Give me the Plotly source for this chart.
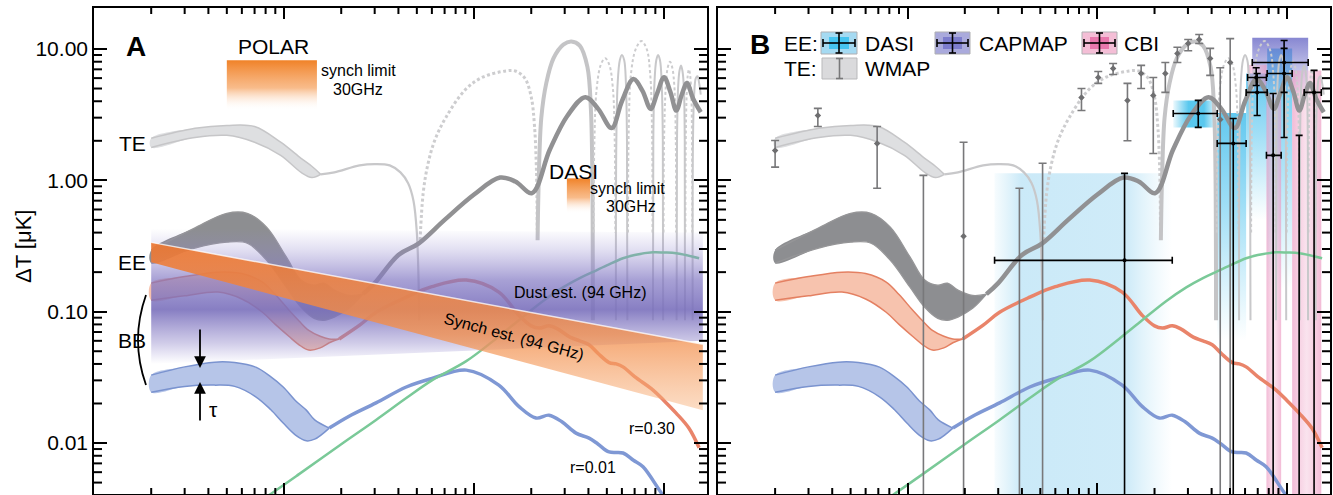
import plotly.graph_objects as go

# ---------------- data (multipole ell, Delta T in microK) ----------------
te_band_ell = [2, 3.4, 5, 7, 9.6, 12.3, 14, 15.6]
te_band_hi = [2.09, 2.49, 2.62, 2.57, 1.95, 1.47, 1.28, 1.11]
te_band_lo = [1.78, 2.12, 2.2, 1.95, 1.55, 1.15, 1.05, 1.11]
te_low_ell = [15.6, 18.4, 25, 30, 36, 41, 45, 48, 50, 51.5]
te_low_val = [1.11, 1.15, 1.3, 1.33, 1.3, 1.15, 0.95, 0.7, 0.4, 0.086]
te_neg1_ell = [52, 54, 57, 62, 71, 90, 111, 147, 165, 185, 200, 208, 213, 215]
te_neg1_val = [0.35, 0.8, 1.3, 2.0, 3.0, 4.9, 6.1, 6.8, 6.8, 6.0, 4.3, 2.6, 1.2, 0.42]
te_pos1_ell = [216, 219, 226, 240, 262, 295, 325, 360, 395, 412, 419, 422]
te_pos1_val = [0.35, 1.0, 3.0, 5.5, 8.5, 10.8, 11.4, 10.6, 7.3, 3.5, 1.2, 0.086]
te_hi_solid = [
    ([558, 561, 570, 585, 600, 617, 630, 638, 641], [0.086, 2.0, 5.5, 8.2, 9.0, 8.2, 5.5, 2.0, 0.086]),
    ([874, 878, 890, 910, 930, 952, 972, 985, 989], [0.086, 2.0, 5.5, 8.2, 9.0, 8.2, 5.5, 2.0, 0.086]),
    ([1164, 1170, 1185, 1205, 1228, 1250, 1272, 1285, 1289], [0.086, 2.0, 5.0, 6.8, 7.5, 6.8, 5.0, 2.0, 0.086]),
    ([1414, 1420, 1440, 1470, 1500, 1530, 1560], [0.086, 2.0, 4.5, 6.0, 6.2, 5.5, 4.5]),
]
te_hi_dashed = [
    ([426, 430, 442, 465, 490, 515, 538, 550, 554], [0.4, 2.0, 5.0, 7.6, 8.5, 7.6, 5.0, 2.0, 0.4]),
    ([646, 652, 670, 710, 760, 810, 845, 864, 869], [0.4, 2.5, 6.5, 10.0, 11.5, 10.0, 6.5, 2.5, 0.4]),
    ([994, 1000, 1020, 1045, 1075, 1105, 1135, 1153, 1158], [0.4, 2.0, 5.0, 7.2, 8.0, 7.2, 5.0, 2.0, 0.4]),
    ([1295, 1300, 1315, 1333, 1352, 1372, 1392, 1404, 1408], [0.4, 1.8, 4.5, 6.3, 7.0, 6.3, 4.5, 1.8, 0.4]),
]

ee_band_ell = [2, 3.36, 5, 6.4, 8.1, 10.3, 12.3, 14.4, 16.2, 18.4, 22, 26]
ee_band_hi = [0.294, 0.431, 0.561, 0.561, 0.44, 0.26, 0.174, 0.159, 0.165, 0.146, 0.133, 0.136]
ee_band_lo = [0.234, 0.304, 0.338, 0.332, 0.246, 0.153, 0.108, 0.089, 0.086, 0.091, 0.106, 0.136]
ee_line_ell = [26, 30, 40, 51, 70, 100, 137, 165, 202, 250, 310, 385, 450, 530, 600, 690, 770,
               850, 920, 1000, 1080, 1160, 1240, 1320, 1420, 1560]
ee_line_val = [0.136, 0.165, 0.27, 0.33, 0.5, 0.78, 1.05, 0.98, 0.8, 1.7, 3.1, 4.3, 3.5, 2.5, 4.0, 5.9,
               4.8, 3.5, 4.6, 6.1, 4.7, 3.4, 4.5, 5.5, 4.2, 3.3]

bb30_band_ell = [2, 3, 4.5, 6, 7.7, 9, 10.6, 12, 13.5, 15.5, 17.3, 19.5]
bb30_band_hi = [0.165, 0.185, 0.2, 0.195, 0.168, 0.135, 0.103, 0.085, 0.072, 0.065, 0.062, 0.062]
bb30_band_lo = [0.122, 0.132, 0.141, 0.125, 0.099, 0.08, 0.065, 0.056, 0.051, 0.053, 0.058, 0.062]
bb30_line_ell = [19.5, 25, 30.5, 44, 60, 91, 135, 172, 200, 220, 248, 275, 320, 360, 403, 450, 514,
                 560, 608, 700, 875, 1000, 1157, 1350, 1529]
bb30_line_val = [0.062, 0.079, 0.099, 0.129, 0.155, 0.174, 0.141, 0.094, 0.078, 0.075, 0.078, 0.074,
                 0.064, 0.06, 0.056, 0.048, 0.041, 0.04, 0.038, 0.032, 0.0253, 0.021, 0.0169, 0.013, 0.0092]

bb01_band_ell = [2, 3, 4.3, 5.5, 7.1, 8.5, 9.9, 11.5, 13.1, 14.5, 17.3]
bb01_band_hi = [0.0329, 0.038, 0.0413, 0.041, 0.0378, 0.032, 0.0267, 0.021, 0.0178, 0.015, 0.013]
bb01_band_lo = [0.0244, 0.027, 0.0276, 0.027, 0.0225, 0.018, 0.0142, 0.0115, 0.0104, 0.0107, 0.013]
bb01_line_ell = [17.3, 22, 30.5, 44, 60, 91, 135, 172, 212, 248, 290, 344, 403, 450, 514, 608, 690,
                 775, 988, 1300]
bb01_line_val = [0.013, 0.016, 0.0202, 0.0267, 0.031, 0.0359, 0.0276, 0.019, 0.0155, 0.0163, 0.0145,
                 0.0119, 0.0109, 0.0098, 0.00855, 0.0084, 0.0074, 0.0066, 0.004, 0.0025]

lens_ell = [7, 8.3, 12, 20, 30.5, 44, 60, 91, 130, 172, 230, 294, 360, 420, 500, 608, 700, 875, 1000,
            1157, 1300, 1529]
lens_val = [0.0034, 0.004, 0.0058, 0.0098, 0.015, 0.022, 0.03, 0.042, 0.062, 0.086, 0.12, 0.153, 0.18,
            0.2, 0.225, 0.255, 0.27, 0.283, 0.282, 0.279, 0.27, 0.255]

# foreground estimates (panel A)
dust_ell = [2, 1600]
dust_hi = [0.43, 0.40]
dust_lo = [0.04, 0.06]
synch_ell = [2, 1600]
synch_hi = [0.337, 0.0566]
synch_lo = [0.238, 0.0178]
polar_lim_ell = [5.0, 14.9]
polar_lim_dT = [3.4, 8.2]
dasi_lim_ell = [308, 408]
dasi_lim_dT = [0.56, 1.035]

# WMAP TE points: ell, value, upper, lower
wmap_ell = [2.0, 3.36, 6.9, 12.1, 19.7, 38.8, 51.4, 82.4, 101, 121, 144, 170, 197, 228, 264, 301, 344, 393, 444, 501]
wmap_val = [1.69, 3.12, 1.91, 0.003, 0.375, 0.003, 0.003, 4.28, 6.07, 7.1, 4.06, 6.5, 4.43, 6.5, 9.24, 11.0, 11.8, 8.47, 2.91, 7.9]
wmap_up = [2.01, 3.53, 2.57, 1.09, 1.95, 0.87, 1.35, 5.0, 6.74, 7.75, 5.47, 7.5, 6.07, 7.9, 10.3, 11.8, 12.9, 10.1, 7.2, 12.0]
wmap_lo = [1.26, 2.57, 0.87, 0.001, 0.001, 0.001, 0.001, 3.4, 5.47, 6.4, 2.0, 5.0, 1.6, 4.67, 7.9, 9.7, 11.0, 6.3, 0.001, 0.001]

# EE band-power points: ell, ell_min, ell_max, value, upper, lower
dasi_ell = [139, 340, 520, 695, 964]
dasi_lmin = [28.7, 251, 428, 608, 785]
dasi_lmax = [248, 428, 608, 785, 1063]
dasi_val = [0.246, 3.23, 1.91, 4.67, 6.5]
dasi_up = [1.13, 4.06, 2.96, 6.5, 10.1]
dasi_lo = [0.001, 2.53, 0.001, 3.12, 2.12]
capmap_ell = [964]
capmap_lmin = [655]
capmap_lmax = [1291]
capmap_val = [7.9]
capmap_up = [11.6]
capmap_lo = [4.67]
cbi_ell = [687, 844, 1157, 1387]
cbi_lmin = [619, 778, 1157, 1230]
cbi_lmax = [778, 930, 1157, 1514]
cbi_val = [6.07, 1.55, 0.003, 4.67]
cbi_up = [7.2, 4.58, 2.2, 6.87]
cbi_lo = [5.27, 0.001, 0.001, 0.001]

# axis ticks
x_major = [10, 100, 1000]
x_minor = [m * d for d in (1, 10, 100) for m in range(2, 10)]
y_major = [0.01, 0.1, 1, 10]
y_minor = [m * d for d in (0.001, 0.01, 0.1, 1) for m in range(2, 10) if 0.0042 < m * d < 20]
y_ticktext = ['0.01', '0.10', '1.00', '10.00']

# ---------------- figure ----------------
W, H = 1333, 495
FONT = 'Liberation Sans, Arial'
xr = [0, 3.226]
yr = [-2.388, 1.312]
PANEL_W = 613.0
PANEL_H = 486.0
def px(x): return x / W
def py(y): return 1 - y / H

fig = go.Figure()

def line(xa, ya, ell, val, color, width, dash='solid', smoothing=1.0):
    fig.add_trace(go.Scatter(x=ell, y=val, xaxis=xa, yaxis=ya, mode='lines',
                             line=dict(color=color, width=width, dash=dash, shape='spline', smoothing=smoothing),
                             hoverinfo='skip', showlegend=False))

def band(xa, ya, ell, hi, lo, fill, edge, ew=1.3, grad=None, shape='spline'):
    x = list(ell) + list(ell)[::-1] + [ell[0]]
    y = list(hi) + list(lo)[::-1] + [hi[0]]
    kw = dict(fillgradient=grad) if grad else {}
    fig.add_trace(go.Scatter(x=x, y=y, xaxis=xa, yaxis=ya, mode='lines', fill='toself', fillcolor=fill,
                             line=dict(width=0, shape=shape), hoverinfo='skip', showlegend=False, **kw))
    if edge:
        for arr in (hi, lo):
            line(xa, ya, ell, arr, edge, ew)

def box(xa, ya, l0, l1, d0, d1, fill, grad=None):
    kw = dict(fillgradient=grad) if grad else {}
    fig.add_trace(go.Scatter(x=[l0, l1, l1, l0, l0], y=[d0, d0, d1, d1, d0], xaxis=xa, yaxis=ya,
                             mode='lines', fill='toself', fillcolor=fill, line=dict(width=0),
                             hoverinfo='skip', showlegend=False, **kw))

TE_C = 'rgb(200,200,202)'
DOT = '3px,2.5px'

def theory(xa, ya):
    band(xa, ya, te_band_ell, te_band_hi, te_band_lo, 'rgb(222,223,225)', 'rgb(198,198,200)', 1.5)
    line(xa, ya, te_low_ell, te_low_val, TE_C, 2.2)
    line(xa, ya, te_neg1_ell, te_neg1_val, 'rgb(205,205,207)', 3, DOT)
    line(xa, ya, te_pos1_ell, te_pos1_val, 'rgb(196,196,198)', 4)
    for e, v in te_hi_dashed:
        line(xa, ya, e, v, 'rgb(205,205,207)', 2, DOT)
    for e, v in te_hi_solid:
        line(xa, ya, e, v, 'rgb(200,200,202)', 2)
    band(xa, ya, ee_band_ell, ee_band_hi, ee_band_lo, 'rgb(141,142,145)', 'rgb(150,150,152)', 1.3)
    line(xa, ya, ee_line_ell, ee_line_val, 'rgb(145,145,147)', 4.5)
    band(xa, ya, bb30_band_ell, bb30_band_hi, bb30_band_lo, 'rgb(247,195,174)', 'rgb(228,128,98)', 1.5)
    line(xa, ya, bb30_line_ell, bb30_line_val, 'rgb(233,132,106)', 3.5)
    band(xa, ya, bb01_band_ell, bb01_band_hi, bb01_band_lo, 'rgb(182,197,232)', 'rgb(122,147,207)', 1.5)
    line(xa, ya, bb01_line_ell, bb01_line_val, 'rgb(127,152,212)', 3.5)
    line(xa, ya, lens_ell, lens_val, 'rgb(122,201,152)', 2.5)

# ---- panel A ----
theory('x', 'y')
vgrad_orange = dict(type='vertical', colorscale=[[0, 'rgba(255,255,255,0)'], [0.45, 'rgba(246,165,100,0.75)'],
                                                 [1, 'rgba(240,130,40,1)']])
box('x', 'y', polar_lim_ell[0], polar_lim_ell[1], polar_lim_dT[0], polar_lim_dT[1], 'rgba(240,140,60,0.7)', vgrad_orange)
box('x', 'y', dasi_lim_ell[0], dasi_lim_ell[1], dasi_lim_dT[0], dasi_lim_dT[1], 'rgba(240,140,60,0.7)', vgrad_orange)
band('x', 'y', dust_ell, dust_hi, dust_lo, 'rgba(135,125,195,0.6)', None, shape='linear',
     grad=dict(type='vertical', colorscale=[[0, 'rgba(150,140,210,0)'], [0.15, 'rgba(140,130,200,0.4)'],
                                            [0.4, 'rgba(122,112,188,0.9)'], [0.62, 'rgba(130,120,195,0.7)'],
                                            [0.85, 'rgba(145,135,205,0.25)'], [1, 'rgba(150,140,210,0)']]))
band('x', 'y', synch_ell, synch_hi, synch_lo, 'rgba(240,135,65,0.8)', None, shape='linear',
     grad=dict(type='vertical', colorscale=[[0, 'rgba(248,178,125,0.45)'], [0.45, 'rgba(242,145,80,0.8)'],
                                            [1, 'rgba(236,118,48,0.92)']]))
line('x', 'y', synch_ell, synch_hi, 'rgba(255,255,255,0.75)', 1.5)

# ---- panel B ----
cyan_h = dict(type='horizontal', colorscale=[[0, 'rgba(170,222,244,0.1)'], [0.15, 'rgba(160,216,242,0.55)'],
                                             [0.75, 'rgba(160,216,242,0.5)'], [1, 'rgba(185,228,246,0.0)']])
box('x2', 'y2', dasi_lmin[0], dasi_lmax[0], 0.003, dasi_up[0], 'rgba(160,216,242,0.4)', cyan_h)
cyan_v = dict(type='vertical', colorscale=[[0, 'rgba(90,200,240,0)'], [0.6, 'rgba(80,195,238,0.55)'],
                                           [1, 'rgba(70,190,236,0.85)']])
cyan_mid = dict(type='horizontal', colorscale=[[0, 'rgba(60,190,235,0.1)'], [0.35, 'rgba(60,190,235,0.85)'],
                                               [0.7, 'rgba(60,190,235,0.85)'], [1, 'rgba(60,190,235,0.05)']])
box('x2', 'y2', dasi_lmin[1], dasi_lmax[1], dasi_lo[1], dasi_up[1], 'rgba(60,190,235,0.6)', cyan_mid)
box('x2', 'y2', dasi_lmin[2], dasi_lmax[2], 0.06, dasi_up[2] * 1.1, 'rgba(70,190,236,0.5)', cyan_v)
box('x2', 'y2', dasi_lmin[3], dasi_lmax[3], 0.5, dasi_up[3], 'rgba(70,190,236,0.5)', cyan_v)
box('x2', 'y2', dasi_lmin[4], dasi_lmax[4], 0.15, dasi_up[4], 'rgba(70,190,236,0.5)', cyan_v)
box('x2', 'y2', capmap_lmin[0], capmap_lmax[0], capmap_lo[0], capmap_up[0] * 1.05, 'rgba(110,110,200,0.6)',
    dict(type='vertical', colorscale=[[0, 'rgba(120,120,205,0.15)'], [1, 'rgba(105,105,198,0.8)']]))
pink_v = dict(type='horizontal', colorscale=[[0, 'rgba(236,150,192,0.65)'], [0.5, 'rgba(242,185,212,0.4)'],
                                             [1, 'rgba(236,150,192,0.65)']])
box('x2', 'y2', cbi_lmin[0], cbi_lmax[0], cbi_lo[0], cbi_up[0] * 1.05, 'rgba(236,150,192,0.6)', pink_v)
box('x2', 'y2', cbi_lmin[1], cbi_lmax[1], 0.003, cbi_up[1], 'rgba(236,150,192,0.5)', pink_v)
box('x2', 'y2', 1063, cbi_lmax[3], 0.003, cbi_up[3], 'rgba(236,150,192,0.5)', pink_v)

theory('x2', 'y2')

def minus(v, lo): return [a - b for a, b in zip(v, lo)]
def plus(v, up): return [b - a for a, b in zip(v, up)]

fig.add_trace(go.Scatter(x=wmap_ell, y=wmap_val, xaxis='x2', yaxis='y2', mode='markers',
                         marker=dict(symbol='diamond', size=5, color='rgb(110,110,112)'),
                         error_y=dict(type='data', array=plus(wmap_val, wmap_up), arrayminus=minus(wmap_val, wmap_lo),
                                      color='rgb(120,120,122)', thickness=1.6, width=4),
                         hoverinfo='skip', showlegend=False))

def ee_points(ell, lmin, lmax, val, up, lo):
    fig.add_trace(go.Scatter(x=ell, y=val, xaxis='x2', yaxis='y2', mode='markers',
                             marker=dict(symbol='circle', size=4, color='black'),
                             error_y=dict(type='data', array=plus(val, up), arrayminus=minus(val, lo),
                                          color='black', thickness=1.6, width=3.5),
                             error_x=dict(type='data', array=plus(ell, lmax), arrayminus=minus(ell, lmin),
                                          color='black', thickness=1.6, width=3.5),
                             hoverinfo='skip', showlegend=False))

ee_points(dasi_ell, dasi_lmin, dasi_lmax, dasi_val, dasi_up, dasi_lo)
ee_points(capmap_ell, capmap_lmin, capmap_lmax, capmap_val, capmap_up, capmap_lo)
ee_points(cbi_ell, cbi_lmin, cbi_lmax, cbi_val, cbi_up, cbi_lo)

# minor inside tick marks on all four sides (short segments through the axes)
ppd_x = PANEL_W / (xr[1] - xr[0])
ppd_y = PANEL_H / (yr[1] - yr[0])
def minor_ticks(xa, ya):
    xs, ys = [], []
    for v in x_minor:
        xs += [v, v, None, v, v, None]
        ys += [10 ** yr[0], 10 ** (yr[0] + 6 / ppd_y), None, 10 ** yr[1], 10 ** (yr[1] - 6 / ppd_y), None]
    for v in y_minor:
        xs += [10 ** xr[0], 10 ** (xr[0] + 8 / ppd_x), None, 10 ** xr[1], 10 ** (xr[1] - 8 / ppd_x), None]
        ys += [v, v, None, v, v, None]
    fig.add_trace(go.Scatter(x=xs, y=ys, xaxis=xa, yaxis=ya, mode='lines', connectgaps=False,
                             line=dict(color='black', width=2), hoverinfo='skip', showlegend=False))

minor_ticks('x', 'y')
minor_ticks('x2', 'y2')

# ---------------- axes ----------------
def xax(domain, anchor):
    return dict(type='log', range=xr, domain=domain, anchor=anchor, showline=True, linecolor='black',
                linewidth=1.6, mirror='ticks', ticks='inside', ticklen=11, tickwidth=2, tickcolor='black',
                tickmode='array', tickvals=x_major, showticklabels=False, showgrid=False, zeroline=False)

def yax(anchor, labels):
    return dict(type='log', range=yr, domain=[1 - 494 / H, 1 - 8 / H], anchor=anchor, showline=True,
                linecolor='black', linewidth=1.6, mirror='ticks', ticks='inside', ticklen=13, tickwidth=2,
                tickcolor='black', tickmode='array', tickvals=y_major, ticktext=y_ticktext,
                showticklabels=labels, showgrid=False, zeroline=False,
                tickfont=dict(family=FONT, size=21, color='black'))

fig.update_layout(
    width=W, height=H, margin=dict(l=0, r=0, t=0, b=0),
    paper_bgcolor='white', plot_bgcolor='white', showlegend=False,
    font=dict(family=FONT, color='black'),
    xaxis=xax([94 / W, 707 / W], 'y'), yaxis=yax('x', True),
    xaxis2=xax([718 / W, 1330 / W], 'y2'), yaxis2=yax('x2', False),
)

# ---------------- annotations ----------------
def txt(x, y, s, size=16, anchor='center', bold=False, angle=0):
    if bold:
        s = '<b>' + s + '</b>'
    fig.add_annotation(x=px(x), y=py(y), xref='paper', yref='paper', text=s, showarrow=False,
                       xanchor=anchor, yanchor='middle', textangle=angle,
                       font=dict(family=FONT, size=size, color='black'))

txt(23, 247, 'ΔT [μK]', 22, angle=-90)
txt(136, 47, 'A', 28, bold=True)
txt(273, 47, 'POLAR', 21)
txt(358, 70, 'synch limit', 16)
txt(358, 89, '30GHz', 16)
txt(148, 143, 'TE', 21, anchor='right')
txt(148, 262, 'EE', 21, anchor='right')
txt(148, 340, 'BB', 21, anchor='right')
txt(573, 171, 'DASI', 21)
txt(627, 188, 'synch limit', 16)
txt(631, 206, '30GHz', 16)
txt(580, 292, 'Dust est. (94 GHz)', 16)
txt(514, 336, 'Synch est. (94 GHz)', 16, angle=15)
txt(652, 428, 'r=0.30', 16)
txt(593, 467, 'r=0.01', 16)
txt(213, 409, 'τ', 21)

# arrows for tau
fig.add_annotation(x=px(200), y=py(368), xref='paper', yref='paper', ax=0, ay=-40, showarrow=True,
                   arrowhead=2, arrowsize=1.3, arrowwidth=1.8, arrowcolor='black', text='')
fig.add_annotation(x=px(200), y=py(382), xref='paper', yref='paper', ax=0, ay=40, showarrow=True,
                   arrowhead=2, arrowsize=1.3, arrowwidth=1.8, arrowcolor='black', text='')

# BB brace
fig.add_shape(type='path', xref='paper', yref='paper',
              path='M {:.5f},{:.5f} Q {:.5f},{:.5f} {:.5f},{:.5f}'.format(px(146), py(295), px(130), py(340), px(146), py(385)),
              line=dict(color='black', width=1.8))

# panel B legend
txt(760, 44, 'B', 28, bold=True)
txt(820, 43, 'EE:', 21, anchor='right')
txt(819, 68, 'TE:', 21, anchor='right')
txt(863, 43, 'DASI', 21, anchor='left')
txt(977, 43, 'CAPMAP', 21, anchor='left')
txt(1122, 43, 'CBI', 21, anchor='left')
txt(863, 68, 'WMAP', 21, anchor='left')

def prect(x0, y0, x1, y1, fill, lc='rgba(0,0,0,0)', lw=0):
    fig.add_shape(type='rect', xref='paper', yref='paper', x0=px(x0), x1=px(x1), y0=py(y1), y1=py(y0),
                  fillcolor=fill, line=dict(color=lc, width=lw), layer='above')

def pline(x0, y0, x1, y1, color='black', w=1.6):
    fig.add_shape(type='line', xref='paper', yref='paper', x0=px(x0), x1=px(x1), y0=py(y0), y1=py(y1),
                  line=dict(color=color, width=w), layer='above')

def cross(x0, x1, yc, color='black', horiz=True):
    xc = (x0 + x1) / 2
    if horiz:
        pline(x0 + 2, yc, x1 - 2, yc, color)
        pline(x0 + 2, yc - 4, x0 + 2, yc + 4, color)
        pline(x1 - 2, yc - 4, x1 - 2, yc + 4, color)
    pline(xc, yc - 10, xc, yc + 10, color)
    pline(xc - 3.5, yc - 10, xc + 3.5, yc - 10, color)
    pline(xc - 3.5, yc + 10, xc + 3.5, yc + 10, color)

for (x0, x1, outer, inner) in [(821, 857, 'rgb(165,218,242)', 'rgb(70,196,240)'),
                               (935, 970, 'rgb(170,170,220)', 'rgb(125,125,205)'),
                               (1082, 1117, 'rgb(244,190,214)', 'rgb(232,120,172)')]:
    prect(x0, 32, x1, 54, outer, 'rgb(175,175,178)', 1)
    prect(x0 + 8, 37, x1 - 8, 49, inner)
    cross(x0, x1, 43)
prect(822, 58, 857, 79, 'rgb(218,218,220)', 'rgb(185,185,187)', 1)
cross(822, 857, 68.5, color='rgb(120,120,122)', horiz=False)

fig.write_html('out.html')
